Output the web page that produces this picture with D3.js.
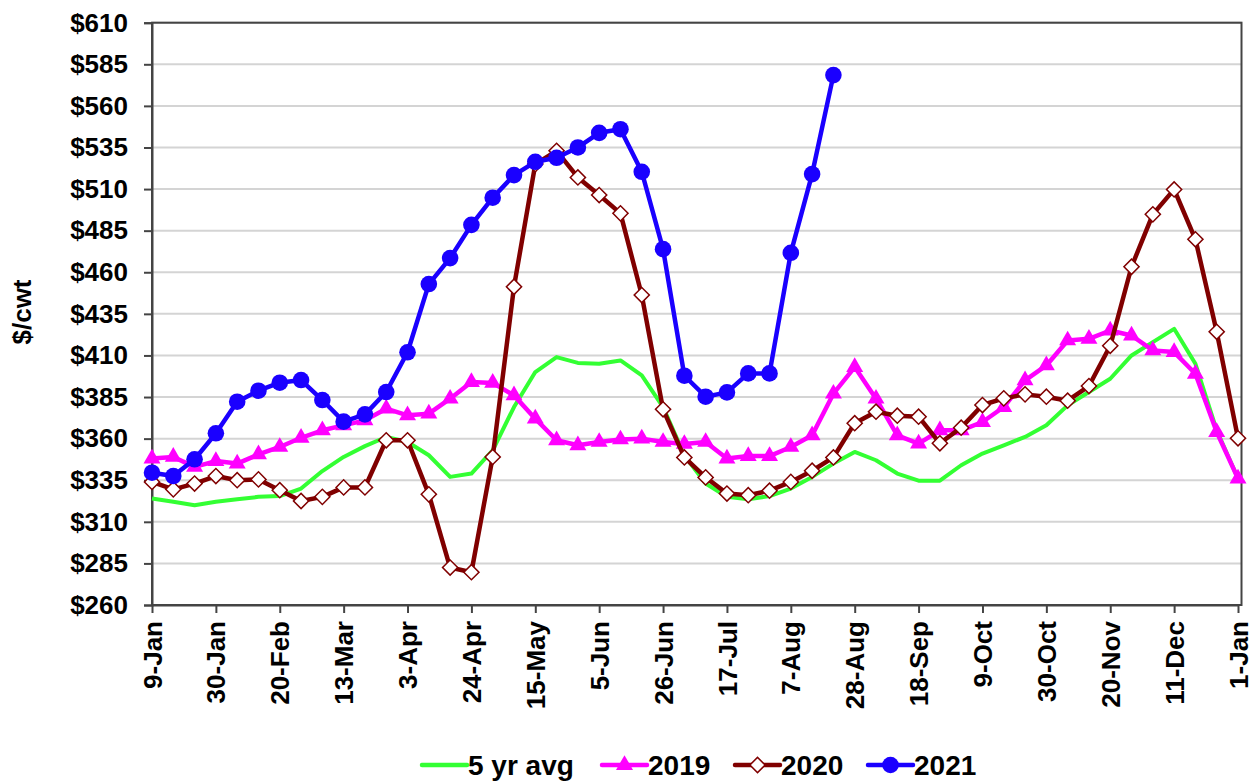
<!DOCTYPE html>
<html><head><meta charset="utf-8">
<script src="https://cdn.jsdelivr.net/npm/d3@7/dist/d3.min.js"></script>
<style>body{margin:0;background:#fff}svg{display:block}text{font-family:"Liberation Sans",Arial,sans-serif;font-weight:bold;fill:#000}</style>
</head><body>
<svg id="c" width="1257" height="782"></svg>
<script>
const tickLabels = ["9-Jan","30-Jan","20-Feb","13-Mar","3-Apr","24-Apr","15-May","5-Jun","26-Jun","17-Jul","7-Aug","28-Aug","18-Sep","9-Oct","30-Oct","20-Nov","11-Dec","1-Jan"];
const yTicks = [260,285,310,335,360,385,410,435,460,485,510,535,560,585,610];
const avg5 = [324,322,320,322,323.5,325,325.5,330,340.5,349,355.5,361,358,350,337,339,353,379,400,409,405.5,405,407,398,379,350,333,325,323.5,325.5,330,337,345,352,347,339,334.7,334.7,344,351,356,361,368,380,388,396,410,418,426,405,365,336];
const y2019 = [348,349,343,346.5,345,350.5,355,360.5,365,368,371,378,374,375,384,394,393.5,386,372,359,356,358,359.5,360,358,356.8,358,348,349.5,349.5,355,362,387,403,384,362,357,365,365,370,379,395,404,419,420,425,422,413,412,399,364,336];
const y2020 = [334,329.5,333,337.5,335,335.5,329,322.5,325,330.7,330.7,359,359,326.5,282.5,279.7,349,451.3,525,533,517,506.4,495.4,446.3,377.6,348.7,336.7,327,326,328.7,334,340.7,348.7,369.3,376.2,373.8,373.2,357.2,366.6,380.2,384.2,386.6,385.2,382.8,391.6,415.8,463.3,494.8,509.8,479.8,424.2,360.2];
const y2021 = [339.5,337.5,347.6,363.2,382.2,388.8,393.6,395.2,383.2,370.2,374.6,388,411.9,452.9,468.5,488.5,504.8,518.4,526.4,528.8,535,543.8,546,520.4,473.9,397.8,385.2,387.8,399.2,399.2,471.7,519,578.5];
const seriesNames = ["5 yr avg","2019","2020","2021"];
const seriesColors = ["#33ff33","#ff00ff","#800000","#1a00ff"];

const svg = d3.select("#c");
const x = d3.scaleLinear().domain([0,51]).range([152,1238]);
const y = d3.scaleLinear().domain([260,610]).range([605,22.7]);
const L = 152, R = 1241.5, T = y(610), B = y(260);

// gridlines
svg.append("g").selectAll("line").data(yTicks.slice(1)).join("line")
  .attr("x1",L).attr("x2",R).attr("y1",d=>y(d)).attr("y2",d=>y(d))
  .attr("stroke","#d4d4d4").attr("stroke-width",2);
// border
svg.append("rect").attr("x",L).attr("y",T).attr("width",R-L).attr("height",B-T)
  .attr("fill","none").attr("stroke","#444").attr("stroke-width",2);

// y axis
const ya = svg.append("g").attr("transform",`translate(${L},0)`)
  .call(d3.axisLeft(y).tickValues(yTicks).tickFormat(d=>"$"+d).tickSize(8).tickPadding(16));
ya.select(".domain").attr("stroke","#444").attr("stroke-width",2);
ya.selectAll(".tick line").attr("stroke","#444").attr("stroke-width",2);
ya.selectAll("text").style("font-size","26px").attr("fill","#000");

// x axis
const xa = svg.append("g").attr("transform",`translate(0,${B})`)
  .call(d3.axisBottom(x).tickValues(d3.range(0,52,3)).tickFormat((d,i)=>tickLabels[i]).tickSize(8).tickSizeOuter(0));
xa.select(".domain").attr("stroke","#444").attr("stroke-width",2);
xa.selectAll(".tick line").attr("stroke","#444").attr("stroke-width",2);
xa.selectAll("text").style("font-size","26px").attr("fill","#000")
  .attr("transform","rotate(-90)").attr("text-anchor","end").attr("x",-16).attr("y",0).attr("dy","0.35em");

// y title
svg.append("text").attr("transform","translate(22,312) rotate(-90)").attr("text-anchor","middle")
  .attr("dy","0.35em").style("font-size","26px").text("$/cwt");

const line = d3.line().x((d,i)=>x(i)).y(d=>y(d));
const g = svg.append("g");
// green
g.append("path").datum(avg5).attr("d",line).attr("fill","none").attr("stroke",seriesColors[0]).attr("stroke-width",4).attr("stroke-linejoin","round");
// 2019
g.append("path").datum(y2019).attr("d",line).attr("fill","none").attr("stroke",seriesColors[1]).attr("stroke-width",4.5).attr("stroke-linejoin","round");
const tri = d3.symbol().type(d3.symbolTriangle).size(125);
g.append("g").selectAll("path").data(y2019).join("path").attr("d",tri)
  .attr("transform",(d,i)=>`translate(${x(i)},${y(d)})`).attr("fill",seriesColors[1]);
// 2020
g.append("path").datum(y2020).attr("d",line).attr("fill","none").attr("stroke",seriesColors[2]).attr("stroke-width",4.5).attr("stroke-linejoin","round");
const dia = d3.symbol().type(d3.symbolSquare).size(115);
g.append("g").selectAll("path").data(y2020).join("path").attr("d",dia)
  .attr("transform",(d,i)=>`translate(${x(i)},${y(d)}) rotate(45)`).attr("fill","#fff").attr("stroke",seriesColors[2]).attr("stroke-width",1.5);
// 2021
g.append("path").datum(y2021).attr("d",line).attr("fill","none").attr("stroke",seriesColors[3]).attr("stroke-width",4.5).attr("stroke-linejoin","round");
g.append("g").selectAll("circle").data(y2021).join("circle")
  .attr("cx",(d,i)=>x(i)).attr("cy",d=>y(d)).attr("r",8.3).attr("fill",seriesColors[3]);

// legend
const legX = [422,602,735,868];
const lg = svg.append("g");
seriesNames.forEach((n,k)=>{
  const lx = legX[k], ly = 765;
  lg.append("line").attr("x1",lx).attr("x2",lx+45).attr("y1",ly).attr("y2",ly)
    .attr("stroke",seriesColors[k]).attr("stroke-width",4.5).attr("stroke-linecap","round");
  const cx = lx+22.5;
  if(k===1) lg.append("path").attr("d",tri).attr("transform",`translate(${cx},${ly})`).attr("fill",seriesColors[1]);
  if(k===2) lg.append("path").attr("d",dia).attr("transform",`translate(${cx},${ly}) rotate(45)`).attr("fill","#fff").attr("stroke",seriesColors[2]).attr("stroke-width",1.5);
  if(k===3) lg.append("circle").attr("cx",cx).attr("cy",ly).attr("r",8.3).attr("fill",seriesColors[3]);
  lg.append("text").attr("x",lx+46).attr("y",ly).attr("dy","0.35em").style("font-size","28px").text(n);
});
</script>
</body></html>
